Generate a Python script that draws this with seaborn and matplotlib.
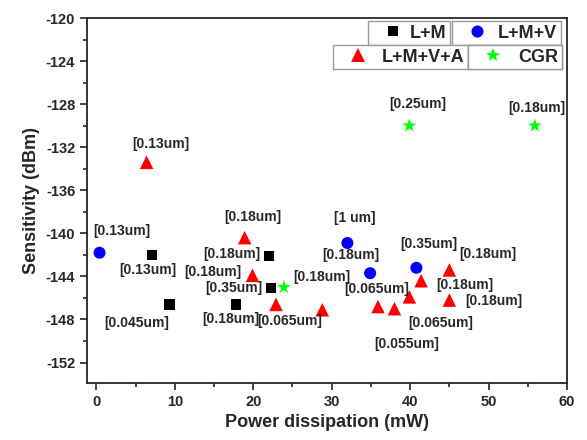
import matplotlib
matplotlib.use("Agg")
import matplotlib.pyplot as plt
import seaborn as sns
import pandas as pd
from matplotlib.lines import Line2D
from matplotlib.ticker import MultipleLocator

# data
lm_x = [7.1, 9.3, 17.8, 22.0, 22.3]
lm_y = [-142.0, -146.6, -146.6, -142.1, -145.1]
lmv_x = [0.4, 32.0, 34.9, 40.8]
lmv_y = [-141.8, -140.9, -143.7, -143.2]
lmva_x = [6.4, 18.9, 19.9, 22.9, 28.8, 35.9, 38.0, 39.9, 41.4, 45.0, 45.0]
lmva_y = [-133.4, -140.4, -143.9, -146.6, -147.1, -146.8, -147.0, -145.9, -144.4, -143.4, -146.2]
cgr_x = [23.9, 39.9, 55.9]
cgr_y = [-145.0, -130.0, -130.0]

labels = ["[0.13um]", "[0.18um]", "[0.13um]", "[0.13um]", "[0.045um]", "[0.18um]",
          "[0.18um]", "[0.35um]", "[0.18um]", "[0.065um]", "[0.18um]", "[1 um]",
          "[0.18um]", "[0.35um]", "[0.18um]", "[0.065um]", "[0.18um]", "[0.18um]",
          "[0.065um]", "[0.055um]", "[0.25um]", "[0.18um]"]
label_pos = [(8.2, -131.7), (19.9, -138.5), (3.3, -139.8), (6.6, -143.4), (5.1, -148.3),
             (17.3, -141.9), (14.9, -143.6), (17.5, -145.1), (17.1, -148.0), (24.7, -148.1),
             (28.8, -144.1), (32.9, -138.6), (32.4, -142.0), (42.4, -141.0), (49.9, -141.9),
             (35.7, -145.2), (47.0, -144.8), (50.7, -146.3), (43.9, -148.3), (39.6, -150.3),
             (41.0, -128.0), (56.1, -128.4)]

groups = [
    ("L+M", lm_x, lm_y, "s", "black", 55),
    ("L+M+V", lmv_x, lmv_y, "o", "blue", 75),
    ("L+M+V+A", lmva_x, lmva_y, "^", "red", 95),
    ("CGR", cgr_x, cgr_y, "*", "#00ff00", 110),
]

sns.set_style("ticks")
plt.rcParams['font.family'] = ['Liberation Sans', 'DejaVu Sans']
plt.rcParams['axes.unicode_minus'] = False

W, H = 587, 440
fig = plt.figure(figsize=(W / 100, H / 100), dpi=100)
ax = fig.add_axes([87 / W, (H - 383) / H, 480 / W, 365 / H])

for name, xs, ys, mk, col, s in groups:
    df = pd.DataFrame({"x": xs, "y": ys})
    sns.scatterplot(data=df, x="x", y="y", marker=mk, color=col, s=s,
                    edgecolor="none", linewidth=0, ax=ax, legend=False, zorder=3)

for txt, (tx, ty) in zip(labels, label_pos):
    ax.text(tx, ty, txt, ha="center", va="center", fontsize=10, fontweight="bold")

ax.set_xlim(-1.2, 60)
ax.set_ylim(-153.9, -120)
ax.xaxis.set_major_locator(MultipleLocator(10))
ax.xaxis.set_minor_locator(MultipleLocator(5))
ax.yaxis.set_major_locator(MultipleLocator(4))
ax.yaxis.set_minor_locator(MultipleLocator(2))
ax.tick_params(which="major", direction="out", length=5, width=1.2, labelsize=10.5)
ax.tick_params(which="minor", direction="out", length=3, width=1.2)
for lab in ax.get_xticklabels() + ax.get_yticklabels():
    lab.set_fontweight("bold")
for sp in ax.spines.values():
    sp.set_linewidth(1.3)
    sp.set_visible(True)

ax.set_xlabel("Power dissipation (mW)", fontsize=13, fontweight="bold")
ax.set_ylabel("Sensitivity (dBm)", fontsize=13, fontweight="bold")

# one boxed legend per series, staggered like the reference
boxes = [(368, 21), (452, 21), (333, 45), (468, 45)]
text_pads = [-0.24, -0.02, 0.14, 0.2]
for (name, xs, ys, mk, col, s), (bx, by), tp in zip(groups, boxes, text_pads):
    h = Line2D([], [], marker=mk, color=col, linestyle="none",
               markersize=s ** 0.5, markeredgewidth=0)
    leg = ax.legend([h], [name], loc="upper left",
                    bbox_to_anchor=(bx / W, 1 - by / H), bbox_transform=fig.transFigure,
                    borderaxespad=0, borderpad=0.2, handlelength=2.37, handletextpad=tp,
                    fancybox=False, framealpha=1, edgecolor="#999999",
                    prop={"size": 13, "weight": "bold"})
    leg.get_frame().set_linewidth(1.0)
    ax.add_artist(leg)

fig.savefig("out.png", dpi=100)
